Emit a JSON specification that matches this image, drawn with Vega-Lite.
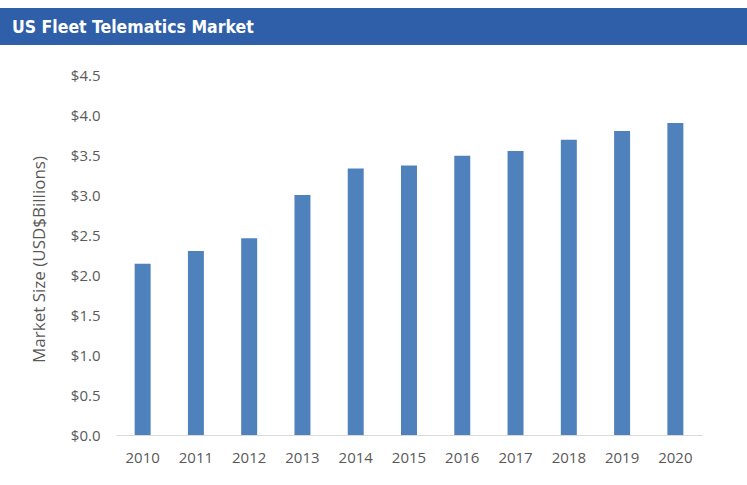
{
  "$schema": "https://vega.github.io/schema/vega-lite/v6.json",
  "background": "white",
  "padding": {"left": 0, "top": 8, "right": 0, "bottom": 0},
  "bounds": "flush",
  "spacing": 30,
  "config": {"view": {"stroke": null}},
  "vconcat": [
    {
      "width": 747,
      "height": 37,
      "view": {"fill": "#2E5FA8", "stroke": null},
      "data": {"values": [{"label": "US Fleet Telematics Market"}]},
      "mark": {
        "type": "text",
        "align": "left",
        "baseline": "middle",
        "color": "white",
        "font": "Liberation Sans Narrow, DejaVu Sans Condensed, sans-serif",
        "fontSize": 17.5,
        "fontWeight": "bold",
        "dy": 1
      },
      "encoding": {
        "x": {"field": "label", "type": "nominal", "scale": {"type": "point", "range": [12, 12]}, "axis": null},
        "text": {"field": "label"}
      }
    },
    {
      "width": 747,
      "height": 360,
      "view": {"stroke": null},
      "data": {
        "values": [
          {"year": "2010", "value": 2.14},
          {"year": "2011", "value": 2.30},
          {"year": "2012", "value": 2.46},
          {"year": "2013", "value": 3.00},
          {"year": "2014", "value": 3.33},
          {"year": "2015", "value": 3.37},
          {"year": "2016", "value": 3.49},
          {"year": "2017", "value": 3.55},
          {"year": "2018", "value": 3.69},
          {"year": "2019", "value": 3.80},
          {"year": "2020", "value": 3.90}
        ]
      },
      "mark": {"type": "bar", "color": "#4F81BD"},
      "encoding": {
        "x": {
          "field": "year",
          "type": "ordinal",
          "scale": {"range": [116, 702], "paddingInner": 0.7, "paddingOuter": 0.35},
          "axis": {
            "title": null,
            "labelAngle": 0,
            "ticks": false,
            "domainColor": "#D9D9D9",
            "labelColor": "#595959",
            "labelFont": "Open Sans",
            "labelFontSize": 15,
            "labelPadding": 15
          }
        },
        "y": {
          "field": "value",
          "type": "quantitative",
          "scale": {"domain": [0, 4.5]},
          "axis": {
            "title": "Market Size (USD$Billions)",
            "titleFont": "Open Sans",
            "titleFontSize": 17,
            "titleFontWeight": "normal",
            "titleColor": "#595959",
            "titlePadding": 22,
            "titleY": 184,
            "offset": -116,
            "values": [0, 0.5, 1, 1.5, 2, 2.5, 3, 3.5, 4, 4.5],
            "format": "$.1f",
            "grid": false,
            "domain": false,
            "ticks": false,
            "labelColor": "#595959",
            "labelFont": "Open Sans",
            "labelFontSize": 15,
            "labelPadding": 16
          }
        }
      }
    }
  ]
}
